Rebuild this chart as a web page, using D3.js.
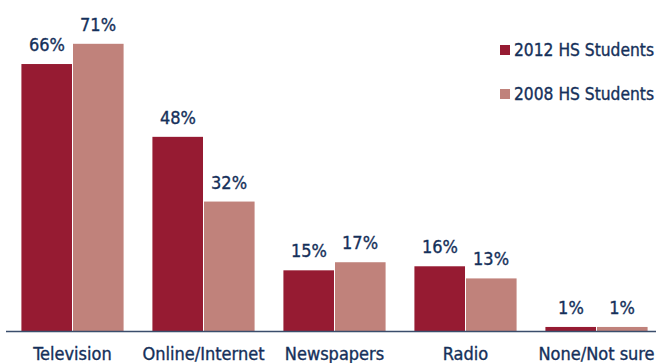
<!DOCTYPE html>
<html>
<head>
<meta charset="utf-8">
<script src="https://cdn.jsdelivr.net/npm/d3@7"></script>
<style>
  html, body { margin: 0; padding: 0; background: #fff; }
  svg { display: block; font-family: Tahoma, "DejaVu Sans Condensed", "DejaVu Sans", sans-serif; }
  svg text { stroke: #15305A; stroke-width: 0.35px; }
</style>
</head>
<body>
<svg id="chart" width="656" height="363"></svg>
<script>
// Where students get news: share by source
const categories = ["Television", "Online/Internet", "Newspapers", "Radio", "None/Not sure"];
const seriesNames = ["2012 HS Students", "2008 HS Students"];
const values2012 = [66, 48, 15, 16, 1];
const values2008 = [71, 32, 17, 13, 1];
const colors = ["#961B32", "#C0827B"];

const svg = d3.select("#chart");
const baseY = 331;
const textColor = "#15305A";
const fontSize = 18;

const x0 = d3.scaleBand()
  .domain(categories)
  .range([7, 662])
  .paddingInner(0.22)
  .paddingOuter(0.11);

const x1 = d3.scaleBand()
  .domain(seriesNames)
  .range([0, x0.bandwidth()])
  .padding(0);

const y = d3.scaleLinear().domain([0, 100]).range([baseY, baseY - 404.5]);

const rows = categories.map((c, i) => ({
  cat: c,
  vals: [values2012[i], values2008[i]]
}));

const groups = svg.selectAll("g.grp")
  .data(rows)
  .join("g")
  .attr("class", "grp")
  .attr("transform", d => `translate(${x0(d.cat)},0)`);

groups.selectAll("rect")
  .data(d => d.vals.map((v, j) => ({ v, s: seriesNames[j], j })))
  .join("rect")
  .attr("x", d => x1(d.s) + (d.j === 1 ? 0.5 : 0))
  .attr("width", x1.bandwidth() - 0.5)
  .attr("y", d => y(d.v))
  .attr("height", d => baseY - y(d.v))
  .attr("fill", d => colors[d.j]);

groups.selectAll("text.val")
  .data(d => d.vals.map((v, j) => ({ v, s: seriesNames[j], j })))
  .join("text")
  .attr("class", "val")
  .attr("x", d => x1(d.s) + x1.bandwidth() / 2)
  .attr("y", d => y(d.v) - 13)
  .attr("text-anchor", "middle")
  .attr("font-size", fontSize)
  .attr("fill", textColor)
  .text(d => d.v + "%");

// baseline axis
const xAxis = d3.axisBottom(x0).tickSize(0).tickPadding(16);
const axisG = svg.append("g")
  .attr("transform", `translate(0,${baseY})`)
  .call(xAxis);
axisG.select(".domain").attr("d", "M6,0.5H656").attr("stroke", "#3A4E6C").attr("stroke-width", 1.5);
axisG.selectAll("text")
  .attr("font-size", fontSize)
  .attr("fill", textColor)
  .attr("font-family", 'Tahoma, "DejaVu Sans Condensed", "DejaVu Sans", sans-serif');

// legend
const legend = svg.append("g");
seriesNames.forEach((name, i) => {
  const ly = 45 + i * 44;
  legend.append("rect")
    .attr("x", 500).attr("y", ly)
    .attr("width", 10).attr("height", 10)
    .attr("fill", colors[i]);
  legend.append("text")
    .attr("x", 514).attr("y", ly + 11)
    .attr("font-size", 17.5)
    .attr("textLength", 140)
    .attr("lengthAdjust", "spacingAndGlyphs")
    .attr("fill", textColor)
    .text(name);
});
</script>
</body>
</html>
